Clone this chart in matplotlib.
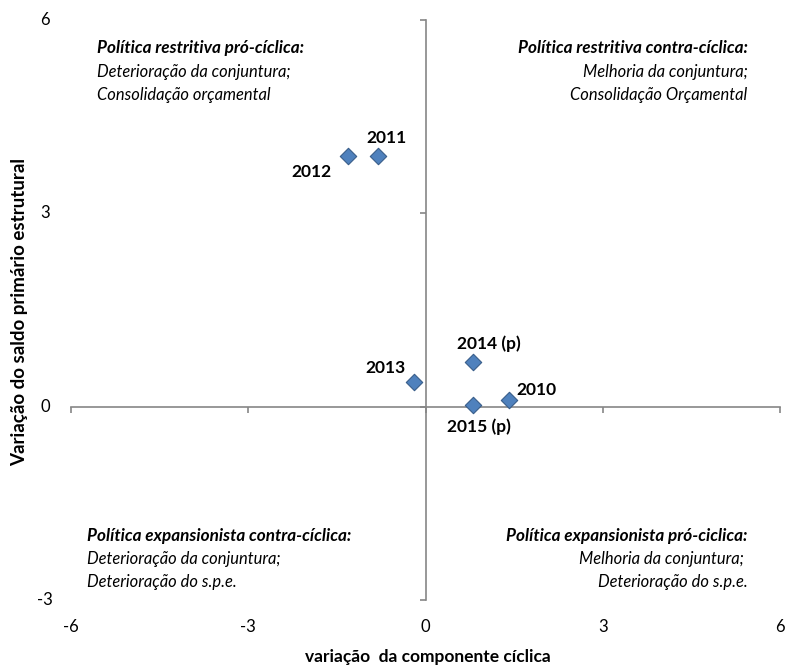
import matplotlib
matplotlib.use("Agg")
import matplotlib.pyplot as plt
import matplotlib.transforms as mtransforms

plt.rcParams['font.family'] = ['Lato', 'DejaVu Sans']

years = ["2010", "2011", "2012", "2013", "2014 (p)", "2015 (p)"]
cyclical_change = [1.41, -0.81, -1.32, -0.19, 0.80, 0.80]
structural_change = [0.11, 3.89, 3.89, 0.39, 0.70, 0.02]
label_offsets = [(28, 10), (9, 18), (-36, -16), (-29, 14), (16, 18), (6, -21)]

x_ticks = [-6, -3, 0, 3, 6]
y_ticks = [-3, 0, 3, 6]

quadrants = [
    (-5.56, 5.56, "left", "Política restritiva pró-cíclica:",
     ["Deterioração da conjuntura;", "Consolidação orçamental"]),
    (5.45, 5.56, "right", "Política restritiva contra-cíclica:",
     ["Melhoria da conjuntura;", "Consolidação Orçamental"]),
    (-5.73, -2.0, "left", "Política expansionista contra-cíclica:",
     ["Deterioração da conjuntura;", "Deterioração do s.p.e."]),
    (5.45, -2.0, "right", "Política expansionista pró-ciclica:",
     ["Melhoria da conjuntura; ", "Deterioração do s.p.e."]),
]

W, H = 786, 671
fig = plt.figure(figsize=(W / 100, H / 100), dpi=100)
ax = fig.add_axes([71 / W, 1 - 600 / H, (780 - 71) / W, (600 - 20) / H])
ax.set_xlim(-6, 6)
ax.set_ylim(-3, 6)

axis_color = "#868686"
for s in ["top", "right"]:
    ax.spines[s].set_visible(False)
ax.spines["left"].set_position(("data", 0))
ax.spines["bottom"].set_position(("data", 0))
for s in ["left", "bottom"]:
    ax.spines[s].set_color(axis_color)
    ax.spines[s].set_linewidth(1.2)
ax.set_xticks(x_ticks)
ax.set_yticks(y_ticks)
ax.set_xticklabels([])
ax.set_yticklabels([])
ax.tick_params(axis="both", direction="out", length=4, width=1.2, color=axis_color)

tick_fs = 12
bx = mtransforms.blended_transform_factory(ax.transData, fig.transFigure)
for t in x_ticks:
    ax.text(t, 1 - 627 / H, str(t), transform=bx, ha="center", va="center",
            fontsize=tick_fs, color="black")
by = mtransforms.blended_transform_factory(fig.transFigure, ax.transData)
for t in y_ticks:
    ax.text(45 / W, t, str(t), transform=by, ha="center", va="center",
            fontsize=tick_fs, color="black")

ax.scatter(cyclical_change, structural_change, marker="D", s=70,
           facecolor="#4F81BD", edgecolor="#385D8A", linewidth=0.8, zorder=5)

for yr, xv, yv, off in zip(years, cyclical_change, structural_change, label_offsets):
    ax.annotate(yr, (xv, yv), xytext=off, textcoords="offset pixels",
                ha="center", va="center", fontsize=12.5, fontweight="bold")

line_gap = 0.36
for x0, y0, ha, title, lines in quadrants:
    ax.text(x0, y0, title, ha=ha, va="center", fontsize=12.3,
            fontweight="bold", fontstyle="italic")
    for i, ln in enumerate(lines):
        ax.text(x0, y0 - line_gap * (i + 1), ln, ha=ha, va="center",
                fontsize=11.9, fontstyle="italic")

fig.text(20 / W, 1 - 312 / H, "Variação do saldo primário estrutural",
         rotation=90, ha="center", va="center", fontsize=13.5, fontweight="bold")
fig.text(428 / W, 1 - 657 / H, "variação  da componente cíclica",
         ha="center", va="center", fontsize=12.5, fontweight="bold")

fig.savefig("out.png", dpi=100)
